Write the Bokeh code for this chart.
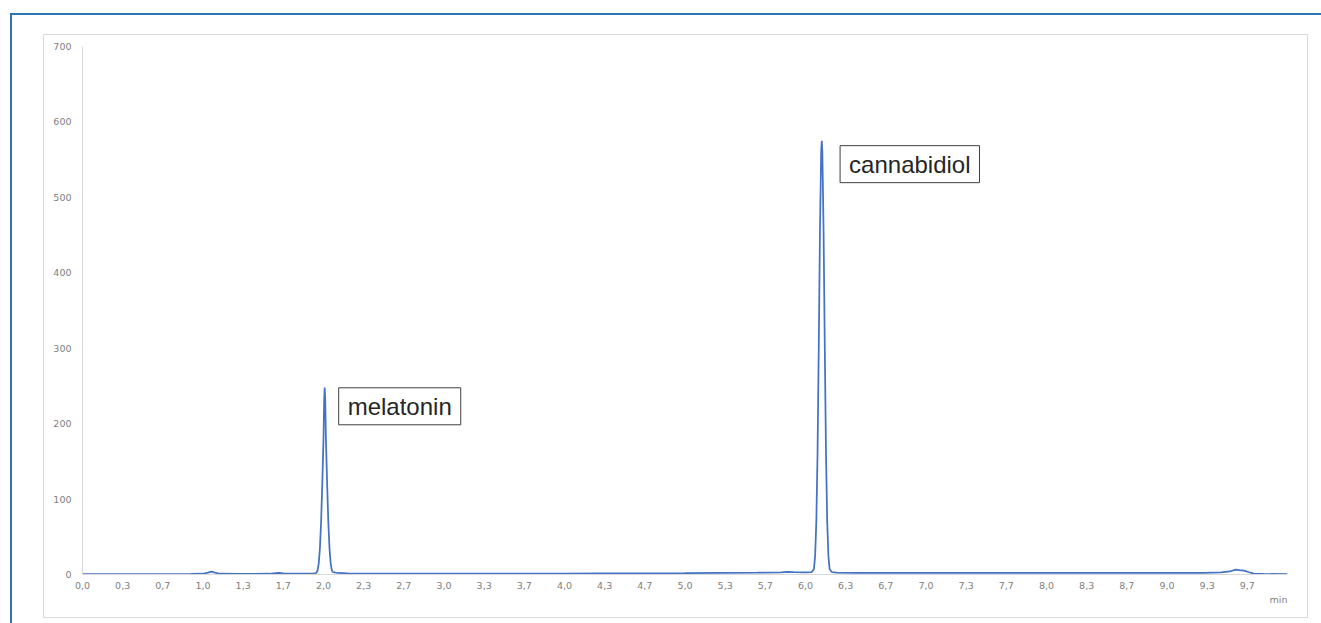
from bokeh.plotting import figure
from bokeh.models import FixedTicker, Label, Title
from bokeh.layouts import column
from bokeh.embed import file_html
from bokeh.resources import INLINE

# --- data ---
time_min = [0.00, 0.50, 0.90, 1.00, 1.04, 1.07, 1.10, 1.14, 1.30, 1.55, 1.60, 1.63, 1.67, 1.72,
            1.85, 1.92, 1.94, 1.95, 1.96, 1.97, 1.98, 1.99, 2.00, 2.005, 2.01, 2.015, 2.02, 2.03,
            2.04, 2.05, 2.06, 2.07, 2.08, 2.12, 2.20, 2.30, 3.00, 4.00, 4.30, 5.00, 5.30, 5.60,
            5.80, 5.85, 5.90, 6.00, 6.05, 6.07, 6.08, 6.09, 6.10, 6.11, 6.12, 6.13, 6.135, 6.14,
            6.15, 6.16, 6.17, 6.18, 6.19, 6.20, 6.22, 6.26, 6.40, 7.00, 8.00, 9.00, 9.30, 9.45,
            9.52, 9.57, 9.60, 9.64, 9.68, 9.72, 9.80, 10.00]
signal = [0.5, 0.5, 0.8, 1.0, 2.5, 3.8, 2.5, 1.0, 0.8, 1.0, 1.8, 2.2, 1.6, 1.0,
          1.0, 1.5, 2.0, 5.0, 14.0, 34.0, 69.0, 121.0, 180.0, 229.0, 248.0, 229.0, 180.0, 121.0,
          69.0, 34.0, 14.0, 5.0, 3.0, 2.0, 1.5, 1.0, 1.0, 1.3, 1.6, 1.8, 2.2, 2.4,
          2.8, 3.5, 3.0, 2.8, 3.0, 7.0, 25.0, 71.0, 161.0, 301.0, 455.0, 560.0, 575.0, 560.0,
          455.0, 301.0, 161.0, 71.0, 25.0, 7.0, 3.0, 2.5, 2.3, 2.2, 2.2, 2.2, 2.3, 2.8,
          4.0, 6.5, 5.8, 5.2, 3.0, 1.2, 0.8, 0.4]

x_tick_labels = ["0,0", "0,3", "0,7", "1,0", "1,3", "1,7", "2,0", "2,3", "2,7", "3,0",
                 "3,3", "3,7", "4,0", "4,3", "4,7", "5,0", "5,3", "5,7", "6,0", "6,3",
                 "6,7", "7,0", "7,3", "7,7", "8,0", "8,3", "8,7", "9,0", "9,3", "9,7"]
y_ticks = [0, 100, 200, 300, 400, 500, 600, 700]
x_unit = "min"

peak_names = ["melatonin", "cannabidiol"]
peak_label_x = [2.126, 6.287]
peak_label_y = [223.0, 544.0]

x_ticks = [i / 3 for i in range(len(x_tick_labels))]

p = figure(width=1265, height=584, x_range=(0, 10), y_range=(0, 700),
           output_backend="svg", toolbar_location=None,
           min_border_left=38, min_border_top=11, min_border_right=22, min_border_bottom=45,
           styles={"border": "1px solid #d9d9d9"})
p.outline_line_color = None
p.xgrid.visible = False
p.ygrid.visible = False
p.background_fill_color = "white"
p.border_fill_color = "white"

tick_font = "DejaVu Sans"
tick_color = "#808080"

xa = p.xaxis[0]
xa.ticker = FixedTicker(ticks=x_ticks)
xa.major_label_overrides = {t: lab for t, lab in zip(x_ticks, x_tick_labels)}
xa.axis_line_color = "#d9d9d9"
xa.major_tick_line_color = None
xa.minor_tick_line_color = None
xa.major_tick_out = 0
xa.major_label_standoff = 7
xa.major_label_text_font = tick_font
xa.major_label_text_font_size = "9.5px"
xa.major_label_text_color = tick_color

unit_title = Title(text=x_unit, align="right", text_font=tick_font, text_font_size="9.5px",
                   text_font_style="normal", text_color=tick_color, standoff=0, offset=0)
p.add_layout(unit_title, "below")

ya = p.yaxis[0]
ya.ticker = FixedTicker(ticks=y_ticks)
ya.axis_line_color = "#d9d9d9"
ya.major_tick_line_color = None
ya.minor_tick_line_color = None
ya.major_tick_out = 0
ya.major_label_standoff = 11
ya.major_label_text_font = tick_font
ya.major_label_text_font_size = "9.5px"
ya.major_label_text_color = tick_color

p.line(time_min, signal, line_color="#4472c4", line_width=1.75)

for name, lx, ly in zip(peak_names, peak_label_x, peak_label_y):
    p.add_layout(Label(x=lx, y=ly, text=name, text_align="left", text_baseline="middle",
                       text_font="Liberation Sans", text_font_size="24px", text_color="#262626",
                       border_line_color="#3f3f3f", border_line_width=1,
                       background_fill_color="white", padding=(9, 5)))

layout = column(p, styles={"border-left": "2px solid #2e75b6", "border-top": "2px solid #2e75b6",
                           "margin-left": "10px", "margin-top": "13px",
                           "padding-left": "31px", "padding-top": "19px",
                           "padding-right": "16px", "margin-right": "-16px",
                           "padding-bottom": "12px", "margin-bottom": "-40px"})

open("out.html", "w").write(file_html(layout, INLINE))
